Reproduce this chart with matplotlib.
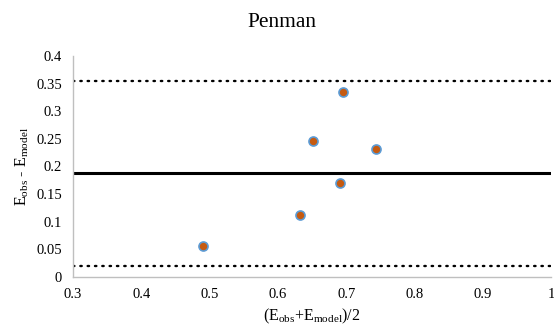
import numpy as np
import matplotlib.pyplot as plt

plt.rcParams['font.family'] = ['Liberation Serif', 'DejaVu Serif']
plt.rcParams['mathtext.fontset'] = 'custom'
plt.rcParams['mathtext.rm'] = 'Liberation Serif'

# data
mean_vals = [0.490, 0.632, 0.691, 0.651, 0.695, 0.744]
diff_vals = [0.056, 0.112, 0.170, 0.246, 0.335, 0.232]
bias = 0.188
upper_loa = 0.355
lower_loa = 0.020

fig = plt.figure(figsize=(5.54, 3.27), dpi=100)
ax = fig.add_axes([0.132, 0.153, 0.863, 0.676])

ax.axhline(bias, color='black', lw=2.2, zorder=2)
ax.axhline(upper_loa, color='black', lw=1.7, linestyle=(0, (0.6, 2.5)),
           dash_capstyle='round', zorder=2)
ax.axhline(lower_loa, color='black', lw=1.7, linestyle=(0, (0.6, 2.5)),
           dash_capstyle='round', zorder=2)

ax.plot(mean_vals, diff_vals, 'o', ms=6.5, mfc='#c55a11', mec='#5b9bd5',
        mew=1.2, ls='none', zorder=3)

ax.set_xlim(0.3, 1.0)
ax.set_ylim(0, 0.4)
ax.set_xticks(np.arange(0.3, 1.01, 0.1))
ax.set_xticklabels(['0.3', '0.4', '0.5', '0.6', '0.7', '0.8', '0.9', '1'])
ax.set_yticks(np.arange(0, 0.401, 0.05))
ax.set_yticklabels(['0', '0.05', '0.1', '0.15', '0.2', '0.25', '0.3', '0.35', '0.4'])
ax.tick_params(length=0, labelsize=10.5, pad=8)

for s in ['top', 'right']:
    ax.spines[s].set_visible(False)
for s in ['left', 'bottom']:
    ax.spines[s].set_color('#bfbfbf')
    ax.spines[s].set_linewidth(1)

fig.text(0.509, 0.93, 'Penman', fontsize=15.5, ha='center', va='center')
ax.set_xlabel(r'(E$_{\mathrm{obs}}$+E$_{\mathrm{model}}$)/2', fontsize=11.5, labelpad=4)
ax.set_ylabel(r'E$_{\mathrm{obs}}$ - E$_{\mathrm{model}}$', fontsize=11.5, labelpad=4)

plt.savefig('out.png', dpi=100)
plt.close()
